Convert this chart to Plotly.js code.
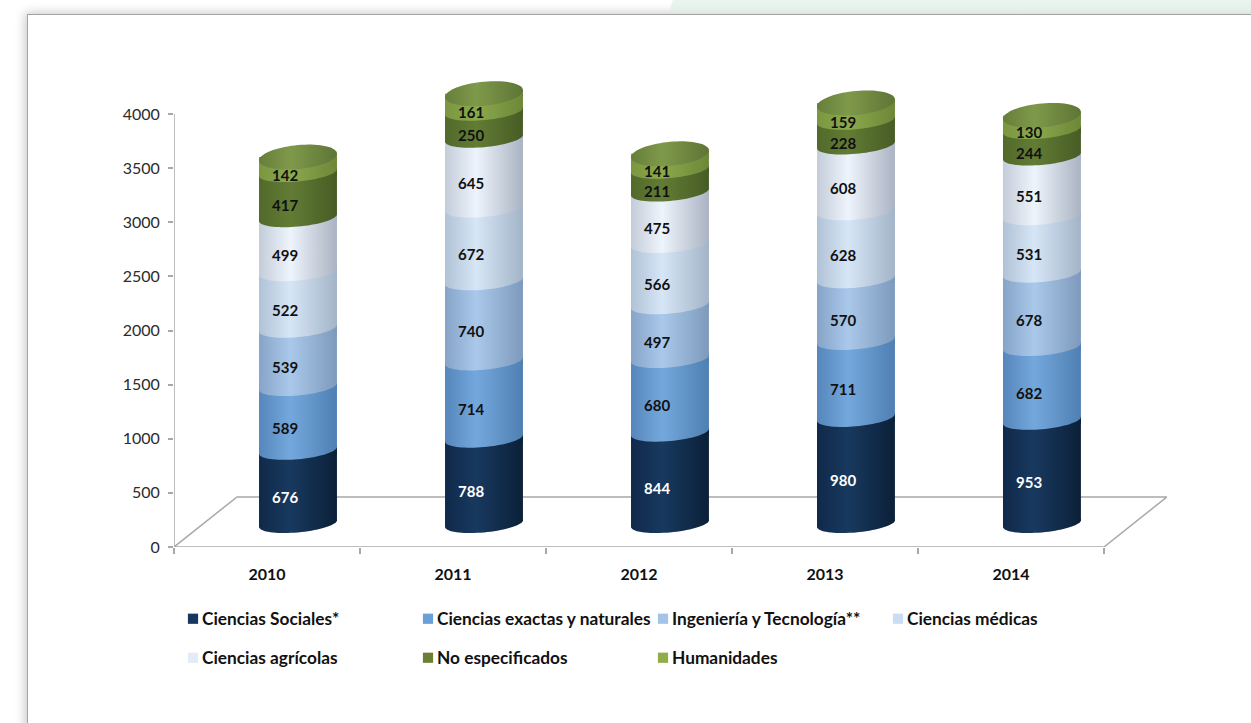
<!DOCTYPE html>
<html>
<head>
<meta charset="utf-8">
<script src="https://cdn.plot.ly/plotly-3.0.0.min.js"></script>
<style>
html,body{margin:0;padding:0;width:1251px;height:723px;overflow:hidden;background:#fff}
#strip{position:absolute;left:0;top:0;width:1251px;height:14px;background:linear-gradient(#ebf5f0,#e6f0eb 70%,#dbe4df);clip-path:polygon(673px 0,1251px 0,1251px 14px,668px 14px)}
#frame{position:absolute;left:27px;top:14px;width:1300px;height:800px;background:#fff;border-left:1.5px solid #a3a3a3;border-top:1.5px solid #a3a3a3;box-shadow:-2px -1px 10px rgba(0,0,0,.22)}
#chart{position:absolute;left:0;top:0;width:1251px;height:723px}
</style>
</head>
<body>
<div id="frame"></div><div id="strip"></div>
<div id="chart"></div>
<script>
const years = ['2010','2011','2012','2013','2014'];
const sociales   = [676,788,844,980,953];
const exactas    = [589,714,680,711,682];
const ingenieria = [539,740,497,570,678];
const medicas    = [522,672,566,628,531];
const agricolas  = [499,645,475,608,551];
const noEspec    = [417,250,211,228,244];
const humanidades= [142,161,141,159,130];
const seriesNames = ['Ciencias Sociales*','Ciencias exactas y naturales','Ingeniería y Tecnología**','Ciencias médicas','Ciencias agrícolas','No especificados','Humanidades'];
const seriesValues = [sociales,exactas,ingenieria,medicas,agricolas,noEspec,humanidades];
const legendColors = ['#17375e','#6a9fd8','#a3c4e8','#c9def2','#e2ebf7','#6b7f37','#8fae4a'];
const gradients = [
 ['#10294a','#18395f','#0b2038'],
 ['#5686bb','#74a8dc','#4f7fb3'],
 ['#86a4c8','#aac8ea','#7d9abd'],
 ['#b0c2d6','#d6e6f6','#a3b4c8'],
 ['#c3ccd9','#eef4fc','#aab3c2'],
 ['#52692b','#627c34','#475c25'],
 ['#7a9640','#8ca94c','#6d8738']
];
const capGradient = ['#667e3a','#7f994a','#5e7536'];

const xs = years.map((_,i)=>i);
const barX = xs.map(v=>v+0.1667);
const barW = 0.419, baseV = 218, rx = barW/2, ryV = 83, ryCap = 111, tiltV = 32;
const yMax = 4499, xMin=-0.5, xMax=4.839;

let cum = years.map(()=>baseV);
const traces=[], shapes=[], annotations=[], shapeFill={};

const axisColor='#a8a8a8';
shapes.push({type:'path',layer:'below',xref:'x',yref:'y',line:{color:axisColor,width:1.5},
  path:`M${xMin},0 L${xMin+0.339},463 L4.839,463 L4.5,0`});
shapes.push({type:'line',layer:'below',xref:'x',yref:'y',x0:xMin,x1:4.5,y0:0,y1:0,line:{color:axisColor,width:1.5}});
shapes.push({type:'line',layer:'below',xref:'x',yref:'y',x0:xMin,x1:xMin,y0:0,y1:4000,line:{color:axisColor,width:1.5}});

function lowerPoints(cx,cy,from,to){
  const pts=[];
  for(let k=from;k<=to;k++){
    const t=Math.PI*k/36, c=Math.cos(t), s=Math.sin(t);
    pts.push([cx+rx*c, cy-ryV*s+tiltV*c]);
  }
  return pts;
}
function toPath(pts){
  return 'M'+pts.map(p=>p[0].toFixed(4)+','+p[1].toFixed(1)).join(' L')+' Z';
}
function lowerPath(cx,cy){
  const pts=lowerPoints(cx,cy,0,36);
  pts.push([cx-rx,cy+40],[cx+rx,cy+40]);
  return toPath(pts);
}
function capPath(cx,cy){
  const pts=[];
  for(let k=0;k<72;k++){
    const t=2*Math.PI*k/72, c=Math.cos(t), s=Math.sin(t);
    pts.push([cx+rx*c, cy+ryCap*s+tiltV*c]);
  }
  return toPath(pts);
}
// slanted join: the series below a boundary reaches up to the tilted rim
function rimPath(cx,cy){
  return `M${cx-rx},${cy-40} L${cx+rx},${cy-40} L${cx+rx},${cy+tiltV} L${cx-rx},${cy-tiltV} Z`;
}
// white corner under the rising right end of the lowest rim
function cornerPath(cx,cy){
  const pts=lowerPoints(cx,cy,0,18);
  pts.push([cx+rx+0.006,cy-ryV],[cx+rx+0.006,cy+tiltV]);
  return toPath(pts);
}
function addShape(path,fillId,color){
  if(fillId) shapeFill[shapes.length]=fillId;
  shapes.push({type:'path',layer:'above',xref:'x',yref:'y',path:path,fillcolor:color,line:{width:0}});
}

seriesValues.forEach((vals,si)=>{
  const base=cum.slice();
  traces.push({type:'bar',name:seriesNames[si],x:barX,y:vals,base:base,width:barW,
    marker:{color:legendColors[si],line:{width:0}},legend:si<4?'legend':'legend2',hoverinfo:'skip'});
  vals.forEach((v,i)=>{
    if(si>0) addShape(rimPath(barX[i],base[i]),'g'+(si-1),legendColors[si-1]);
    else addShape(cornerPath(barX[i],base[i]),null,'#ffffff');
    addShape(lowerPath(barX[i],base[i]),'g'+si,legendColors[si]);
    annotations.push({x:barX[i],y:base[i]+v/2,xref:'x',yref:'y',text:'<b>'+v+'</b>',showarrow:false,
      xshift:-13,yshift:-10,font:{family:'Lato, sans-serif',size:15,color:si===0?'#ffffff':'#111111'}});
    cum[i]+=v;
  });
});
cum.forEach((c,i)=>{
  addShape(rimPath(barX[i],c),'g6',legendColors[6]);
  addShape(capPath(barX[i],c),'gcap','#6f8a3a');
});

const legendBase={orientation:'h',xanchor:'left',yanchor:'middle',bgcolor:'rgba(0,0,0,0)',
  entrywidth:190,entrywidthmode:'pixels',itemwidth:30,itemclick:false,itemdoubleclick:false,
  font:{family:'Lato, sans-serif',size:17.3,color:'#111111',weight:700},traceorder:'normal'};
const layout={
  width:1251,height:723,margin:{l:174,r:84,t:60,b:176,pad:0},
  paper_bgcolor:'rgba(0,0,0,0)',plot_bgcolor:'rgba(0,0,0,0)',barmode:'overlay',showlegend:true,
  xaxis:{range:[xMin,xMax],tickmode:'array',tickvals:xs,ticktext:years.map(y=>'<b>'+y+'</b>'),ticks:'',showgrid:false,zeroline:false,showline:false,
    tickfont:{family:'Lato, sans-serif',size:16,color:'#111111'},ticklabelstandoff:16,
    minor:{tickmode:'array',tickvals:[-0.5,0.5,1.5,2.5,3.5,4.5],ticks:'outside',ticklen:6,tickcolor:axisColor,tickwidth:1.5,showgrid:false}},
  yaxis:{range:[0,yMax],tickmode:'array',tickvals:[0,500,1000,1500,2000,2500,3000,3500,4000],ticks:'outside',ticklen:5,tickcolor:axisColor,tickwidth:1.5,
    showgrid:false,zeroline:false,showline:false,ticklabelstandoff:5,tickfont:{family:'Lato, sans-serif',size:16,color:'#2b2b2b'}},
  legend:Object.assign({},legendBase,{x:(162-174)/993,y:(547-619)/487}),
  legend2:Object.assign({},legendBase,{x:(162-174)/993,y:(547-658)/487}),
  shapes:shapes,annotations:annotations
};

Plotly.newPlot('chart',traces,layout,{displayModeBar:false}).then(gd=>{
  const svg=gd.querySelector('svg.main-svg');
  const ns='http://www.w3.org/2000/svg';
  const defs=svg.querySelector('defs')||svg.insertBefore(document.createElementNS(ns,'defs'),svg.firstChild);
  function addGrad(id,c){
    const g=document.createElementNS(ns,'linearGradient');
    g.setAttribute('id',id);g.setAttribute('x1','0');g.setAttribute('x2','1');g.setAttribute('y1','0');g.setAttribute('y2','0');
    [[0,c[0]],[0.4,c[1]],[1,c[2]]].forEach(s=>{const st=document.createElementNS(ns,'stop');st.setAttribute('offset',s[0]);st.setAttribute('stop-color',s[1]);g.appendChild(st);});
    defs.appendChild(g);
  }
  gradients.forEach((c,i)=>addGrad('g'+i,c));
  addGrad('gcap',capGradient);
  const bars=gd.querySelectorAll('.barlayer .trace');
  bars.forEach((tr,i)=>tr.querySelectorAll('path').forEach(p=>p.style.setProperty('fill','url(#g'+i+')')));
  Object.keys(shapeFill).forEach(k=>{
    const p=gd.querySelector('.shapelayer path[data-index="'+k+'"]');
    if(p)p.style.setProperty('fill','url(#'+shapeFill[k]+')');
  });
  document.querySelectorAll('.legendpoints path').forEach(p=>{
    p.setAttribute('transform','translate(31,0) scale(0.85)');
  });
});
</script>
</body>
</html>
